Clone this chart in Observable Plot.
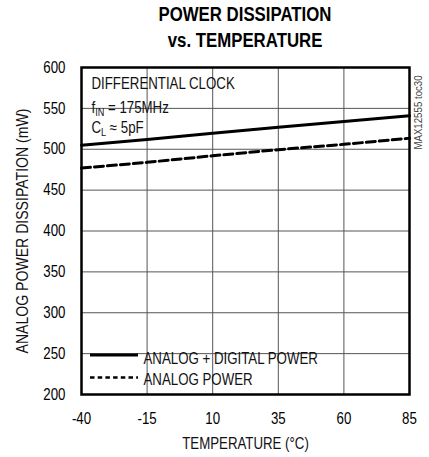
<!DOCTYPE html>
<html><head><meta charset="utf-8">
<script src="https://cdn.jsdelivr.net/npm/d3@7"></script>
<script src="https://cdn.jsdelivr.net/npm/@observablehq/plot@0.6"></script>
<style>
body{margin:0;background:#fff;font-family:"Liberation Sans",Arial,sans-serif;}
#title{width:328px;margin-left:81px;text-align:center;font-weight:bold;font-size:20px;line-height:26px;padding-top:1px;height:52px;}
#title span{display:inline-block;transform:scaleX(0.84);transform-origin:50% 50%;white-space:nowrap;}
#chart svg{display:block;}
#err{font:10px monospace;color:red;}
</style></head><body>
<div id="title"><span>POWER DISSIPATION</span><br><span>vs. TEMPERATURE</span></div>
<div id="chart"></div>
<div id="err"></div>
<script>
// ---- data ----
const temperature = [-40, -15, 10, 35, 60, 85];
const analogDigitalPower = [505, 512, 519.5, 527, 534, 541];
const analogPower = [477, 484, 492, 499.5, 506, 513.5];
const xTicks = [-40, -15, 10, 35, 60, 85];
const yTicks = [200, 250, 300, 350, 400, 450, 500, 550, 600];
const seriesNames = ["ANALOG + DIGITAL POWER", "ANALOG POWER"];
const annotations = ["DIFFERENTIAL CLOCK", "f_{IN} = 175MHz", "C_{L} ≈ 5pF"];
const xLabel = "TEMPERATURE (°C)";
const yLabel = "ANALOG POWER DISSIPATION (mW)";
const sideNote = "MAX12555 toc30";

const rows = temperature.map((t, i) => ({t, ad: analogDigitalPower[i], a: analogPower[i]}));

const FONT = '"Liberation Sans",Arial,sans-serif';
const NARROW = 0.83;
const NARROW_ROT = 0.88;
const W = 429, H = 404, mL = 81, mR = 20, mT = 14, mB = 63;
const annotDy = [16.3, 40.5, 60];
const legendDy = [-36, -15];

const chart = Plot.plot({
  width: W, height: H,
  marginLeft: mL, marginRight: mR, marginTop: mT, marginBottom: mB,
  style: {fontFamily: FONT, fontSize: "16px", background: "white", color: "black"},
  x: {domain: [-40, 85], ticks: xTicks, tickSize: 0, tickPadding: 18, label: null, tickFormat: d => String(d)},
  y: {domain: [200, 600], ticks: yTicks, tickSize: 0, tickPadding: 16, label: null, tickFormat: d => String(d)},
  marks: [
    Plot.ruleX(xTicks, {stroke: "#555", strokeWidth: 1}),
    Plot.ruleY(yTicks, {stroke: "#555", strokeWidth: 1}),
    ...annotations.map((s, i) => Plot.text([s], {text: d => d, frameAnchor: "top-left", textAnchor: "start", lineAnchor: "middle", dx: 10, dy: annotDy[i], fill: "#111", ariaLabel: "annotation"})),
    Plot.line(rows, {x: "t", y: "ad", stroke: "black", strokeWidth: 3}),
    Plot.line(rows, {x: "t", y: "a", stroke: "black", strokeWidth: 3, strokeDasharray: "9,4"}),
    ...seriesNames.map((s, i) => Plot.text([s], {text: d => d, frameAnchor: "bottom-left", textAnchor: "start", lineAnchor: "middle", dx: 62, dy: legendDy[i], fill: "#111", ariaLabel: "legend"})),
    Plot.text([xLabel], {text: d => d, frameAnchor: "bottom", textAnchor: "middle", lineAnchor: "middle", dy: 49.5, fill: "#111"}),
    Plot.text([yLabel], {text: d => d, frameAnchor: "left", textAnchor: "middle", lineAnchor: "middle", rotate: -90, dx: -58.5, fill: "#111"}),
    Plot.text([sideNote], {text: d => d, frameAnchor: "top-right", textAnchor: "middle", lineAnchor: "middle", rotate: -90, dx: 9, dy: 45, fontSize: 11, fill: "#444"}),
    Plot.frame({stroke: "black", strokeWidth: 2.5})
  ]
});
document.getElementById("chart").appendChild(chart);

try {
const svg = d3.select(chart);
// subscripts
svg.selectAll("text").each(function() {
  const s = this.textContent;
  if (!s.includes("_{")) return;
  const parts = s.split(/_\{([^}]*)\}/);
  const el = d3.select(this);
  el.text(null);
  parts.forEach((p, k) => {
    if (!p) return;
    const sub = k % 2 === 1;
    const ts = el.append("tspan").text(p);
    if (sub) ts.attr("font-size", 11).attr("dy", 3);
    else if (k > 0) ts.attr("dy", -3);
  });
});
// condensed look: compress every text horizontally
svg.selectAll("text").each(function() {
  const tr = this.getAttribute("transform") || "";
  if (tr.includes("translate")) {
    const k = tr.includes("rotate") ? NARROW_ROT : NARROW;
    this.setAttribute("transform", tr + ` scale(${k},1)`);
    return;
  }
  const len = this.getComputedTextLength();
  if (len > 0) {
    this.setAttribute("textLength", (len * NARROW).toFixed(2));
    this.setAttribute("lengthAdjust", "spacingAndGlyphs");
  }
});

const sb = chart.getBoundingClientRect();
function box(el) {
  const r = el.getBoundingClientRect();
  return {x0: r.left - sb.left, y0: r.top - sb.top, x1: r.right - sb.left, y1: r.bottom - sb.top};
}
const root = chart;
function topChild(node) { while (node.parentNode !== root) node = node.parentNode; return node; }
// per-line white boxes behind annotations
const annotTexts = svg.selectAll('g[aria-label="annotation"] text').nodes();
if (annotTexts.length) {
  const before = topChild(annotTexts[0]);
  annotTexts.forEach(t => {
    const b = box(t);
    d3.select(root).insert("rect", () => before)
      .attr("x", b.x0 - 4).attr("y", b.y0 - 3)
      .attr("width", b.x1 - b.x0 + 8).attr("height", b.y1 - b.y0 + 6)
      .attr("fill", "white");
  });
}
// legend samples and box
const legendTexts = svg.selectAll('g[aria-label="legend"] text').nodes();
const frameBottom = H - mB;
const sampleX0 = mL + 9, sampleX1 = mL + 57;
const sampleY = [frameBottom - 39, frameBottom - 16.5];
if (legendTexts.length) {
  let u = {x0: sampleX0, y0: Infinity, x1: -Infinity, y1: -Infinity};
  legendTexts.forEach(t => {
    const b = box(t);
    u.y0 = Math.min(u.y0, b.y0); u.x1 = Math.max(u.x1, b.x1); u.y1 = Math.max(u.y1, b.y1);
  });
  d3.select(root).insert("rect", () => topChild(legendTexts[0]))
    .attr("x", u.x0 - 3).attr("y", u.y0 - 3)
    .attr("width", u.x1 - u.x0 + 6).attr("height", u.y1 - u.y0 + 5)
    .attr("fill", "white");
}
const lg = d3.select(root).append("g").attr("aria-label", "legend-samples");
lg.append("line").attr("x1", sampleX0).attr("x2", sampleX1).attr("y1", sampleY[0]).attr("y2", sampleY[0])
  .attr("stroke", "black").attr("stroke-width", 3);
lg.append("line").attr("x1", sampleX0).attr("x2", sampleX1).attr("y1", sampleY[1]).attr("y2", sampleY[1])
  .attr("stroke", "black").attr("stroke-width", 2.5).attr("stroke-dasharray", "4.5,3.2");
} catch (e) { document.getElementById("err").textContent = String(e); }
</script>
</body></html>
